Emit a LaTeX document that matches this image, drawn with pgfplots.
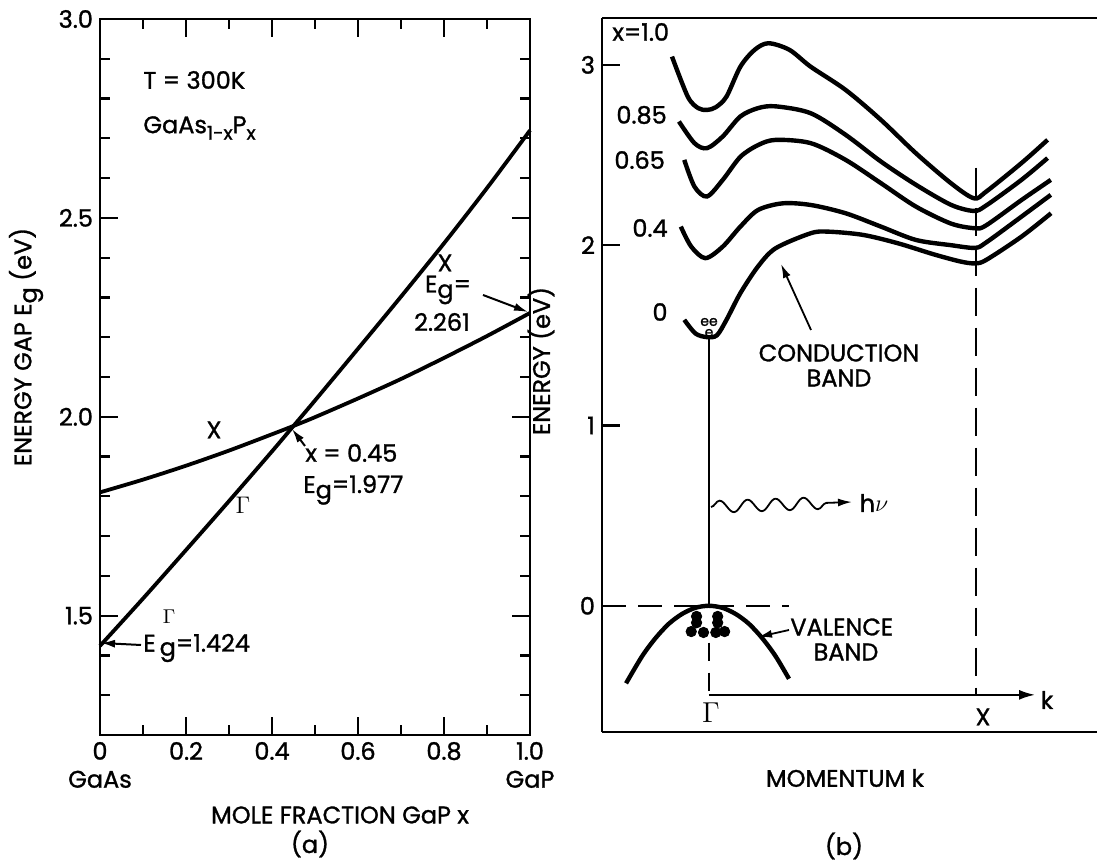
\documentclass[border=0pt]{standalone}
\usepackage{fontspec}
\setmainfont{Poppins}[FakeBold=1.2]
\usepackage{pgfplots}
\pgfplotsset{compat=1.18}
\usetikzlibrary{arrows.meta,decorations.pathmorphing}

\begin{document}
\begin{tikzpicture}[font=\fontsize{12}{14}\selectfont]
\useasboundingbox (0,0) rectangle (548.5pt,432.5pt);

% ---------------- (a) ----------------
\begin{axis}[
  at={(50pt,65pt)}, anchor=south west, scale only axis,
  width=215pt, height=358pt,
  xmin=0, xmax=1, ymin=1.2, ymax=3.0,
  xtick={0,0.2,0.4,0.6,0.8,1.0},
  xticklabels={{0\\GaAs},0.2,0.4,0.6,0.8,{1.0\\GaP}},
  xticklabel style={align=center},
  ytick={1.5,2.0,2.5,3.0},
  yticklabels={1.5,2.0,2.5,3.0},
  minor xtick={0.1,0.3,0.5,0.7,0.9},
  minor ytick={1.3,1.4,1.6,1.7,1.8,1.9,2.1,2.2,2.3,2.4,2.6,2.7,2.8,2.9},
  tick align=inside,
  major tick length=9pt, minor tick length=5pt,
  every tick/.style={black, line width=1.1pt},
  axis line style={line width=1.4pt},
  clip=false,
]
% Gamma gap
\addplot[line width=1.9pt, smooth] coordinates {
 (0,1.424) (0.1,1.543) (0.2,1.665) (0.3,1.788) (0.4,1.913) (0.45,1.977)
 (0.5,2.041) (0.6,2.171) (0.7,2.302) (0.8,2.436) (0.9,2.575) (1.0,2.720)};
% X gap
\addplot[line width=1.9pt, smooth] coordinates {
 (0,1.810) (0.1,1.842) (0.2,1.877) (0.3,1.915) (0.4,1.956) (0.45,1.977)
 (0.5,1.999) (0.6,2.046) (0.7,2.095) (0.8,2.148) (0.9,2.203) (1.0,2.261)};
\end{axis}

% ---------------- (b) ----------------
\begin{axis}[
  at={(301pt,66.5pt)}, anchor=south west, scale only axis,
  width=247.5pt, height=357pt,
  xmin=-0.40, xmax=1.453, ymin=-0.70, ymax=3.26,
  axis x line*=box, axis y line*=left,
  xtick=\empty, ytick={0,1,2,3}, yticklabels={0,1,2,3},
  tick align=inside, major tick length=9pt,
  every tick/.style={black, line width=1.1pt},
  axis line style={line width=1.4pt},
  clip=false,
]
% conduction bands
\addplot[line width=2.2pt, smooth, tension=0.5] coordinates {
 (-0.138,3.046) (-0.079,2.824) (-0.040,2.760) (-0.007,2.750) (0.026,2.765)
 (0.066,2.824) (0.118,2.990) (0.171,3.083) (0.223,3.120) (0.302,3.083)
 (0.381,2.990) (0.512,2.861) (0.644,2.695) (0.775,2.510) (0.906,2.344)
 (0.992,2.260) (1.038,2.297) (1.170,2.455) (1.268,2.584)};
\addplot[line width=2.2pt, smooth, tension=0.5] coordinates {
 (-0.112,2.686) (-0.054,2.566) (-0.007,2.538) (0.052,2.603) (0.118,2.714)
 (0.184,2.760) (0.25,2.770) (0.381,2.732) (0.512,2.612) (0.644,2.464)
 (0.775,2.335) (0.906,2.224) (0.992,2.190) (1.038,2.220) (1.170,2.362) (1.268,2.483)};
\addplot[line width=2.2pt, smooth, tension=0.5] coordinates {
 (-0.092,2.473) (-0.054,2.325) (-0.007,2.270) (0.052,2.362) (0.118,2.490)
 (0.184,2.555) (0.25,2.584) (0.381,2.566) (0.512,2.473) (0.644,2.344)
 (0.775,2.214) (0.906,2.120) (0.996,2.094) (1.038,2.110) (1.170,2.250) (1.280,2.362)};
\addplot[line width=2.2pt, smooth, tension=0.5] coordinates {
 (-0.105,2.103) (-0.066,1.992) (-0.013,1.928) (0.052,1.992) (0.118,2.103)
 (0.184,2.195) (0.276,2.232) (0.381,2.223) (0.512,2.177) (0.644,2.103)
 (0.775,2.029) (0.906,2.000) (0.996,1.985) (1.038,2.015) (1.170,2.158) (1.280,2.279)};
\addplot[line width=2.2pt, smooth, tension=0.5] coordinates {
 (-0.092,1.586) (-0.05,1.51) (-0.007,1.49) (0.03,1.50) (0.066,1.586)
 (0.118,1.734) (0.184,1.882) (0.25,1.983) (0.381,2.066) (0.447,2.075)
 (0.577,2.057) (0.709,2.010) (0.840,1.950) (0.940,1.910) (0.996,1.899)
 (1.038,1.918) (1.170,2.047) (1.281,2.177)};
% valence band
\addplot[line width=2.2pt, smooth] coordinates {
 (-0.31,-0.43) (-0.25,-0.28) (-0.2,-0.18) (-0.15,-0.10) (-0.1,-0.045)
 (-0.05,-0.011) (0,0) (0.05,-0.011) (0.1,-0.045) (0.15,-0.10) (0.2,-0.18)
 (0.25,-0.28) (0.30,-0.405)};
% holes
\addplot[only marks, mark=*, mark size=2.6pt, black] coordinates {
 (-0.046,-0.059) (0.033,-0.059) (-0.046,-0.094) (0.033,-0.094)
 (-0.066,-0.143) (-0.02,-0.148) (0.026,-0.148) (0.059,-0.143)};
% transition line
\addplot[line width=1.3pt] coordinates {(0,1.48) (0,0)};
% dashed reference lines
\addplot[line width=1pt, dash pattern=on 12pt off 6pt] coordinates {(-0.40,0) (0.30,0)};
\addplot[line width=1pt, dash pattern=on 9pt off 6pt] coordinates {(0,-0.205) (0,-0.494)};
\addplot[line width=1pt, dash pattern=on 14pt off 6pt] coordinates {(1.0,2.43) (1.0,-0.494)};
% k axis
\addplot[line width=1pt, -{Latex[length=8pt,width=5pt]}] coordinates {(0,-0.494) (1.221,-0.494)};
\end{axis}

% ---------------- texts (pixel coordinates) ----------------
\begin{scope}[shift={(0pt,432.5pt)}, x=0.5pt, y=-0.5pt, every node/.style={inner sep=0pt}]
% (a)
\node[anchor=west] at (143,80) {T = 300K};
\node[anchor=west] at (143,128) {GaAs\raisebox{-0.5ex}{\fontsize{9.5}{10}\selectfont 1-x}P\raisebox{-0.5ex}{\fontsize{9.5}{10}\selectfont x}};
\node at (214,430) {X};
\node at (243,505) {$\Gamma$};
\node[anchor=west] at (305,453) {x = 0.45};
\node[anchor=west] at (303,490) {E\raisebox{-0.4ex}{g}=1.977};
\draw[-{Latex[length=7pt,width=4pt]}, line width=1pt] (305,446) -- (292,429);
\node[anchor=west] at (143,648) {E\hspace{2pt}\raisebox{-0.3ex}{g}=1.424};
\node at (169,617) {\fontsize{10}{10}\selectfont$\Gamma$};
\draw[-{Latex[length=7pt,width=4pt]}, line width=1pt] (141,645) -- (101,643);
\node at (445,263) {X};
\node at (448,290) {E\raisebox{-0.4ex}{g}=};
\node at (442,322) {2.261};
\draw[-{Latex[length=7pt,width=4pt]}, line width=1pt] (483,295) -- (528,312);
\node at (340,815) {MOLE FRACTION GaP x};
\node at (310,844) {(a)};
\node[rotate=90] at (26,347) {ENERGY GAP E\raisebox{-0.4ex}{g} (eV)};
% (b)
\node[anchor=west] at (612,32) {x=1.0};
\node[anchor=west] at (616,115) {0.85};
\node[anchor=west] at (614,160) {0.65};
\node[anchor=west] at (632,228) {0.4};
\node at (660,312) {0};
\node at (709,322) {\fontsize{7}{7}\selectfont ee};
\node at (709,333) {\fontsize{7}{7}\selectfont e};
\node at (839,353) {CONDUCTION};
\node at (839,378) {BAND};
\draw[-{Latex[length=7pt,width=4pt]}, line width=0.9pt] (811,330) -- (781,264);
\draw[decorate, decoration={snake, amplitude=3pt, segment length=14pt, post length=8pt},
      -{Latex[length=7pt,width=4pt]}, line width=0.9pt] (711,507) -- (852,502);
\node at (874,503) {h$\nu$};
\node[anchor=west] at (790,627) {VALENCE};
\node at (846,652) {BAND};
\draw[-{Latex[length=7pt,width=4pt]}, line width=0.9pt] (789,630) -- (758,637);
\node at (711,713) {\fontsize{15}{15}\selectfont$\Gamma$};
\node at (983,717) {X};
\node at (1047,700) {k};
\node at (845,778) {MOMENTUM k};
\node at (844,846) {(b)};
\node[rotate=90] at (541,361) {ENERGY (eV)};
\end{scope}
\end{tikzpicture}
\end{document}
